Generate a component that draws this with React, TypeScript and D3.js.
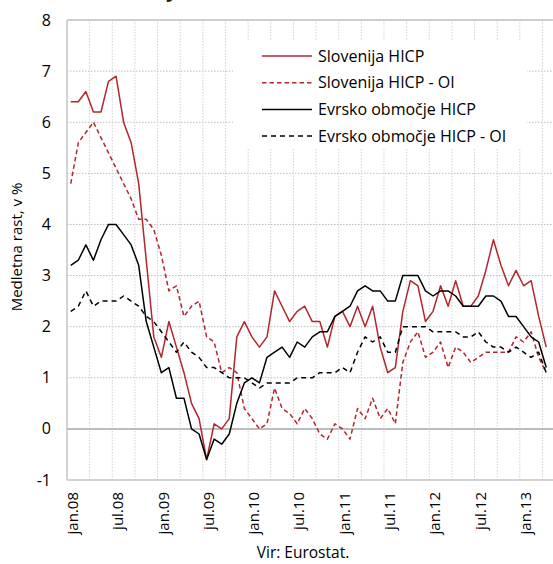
import React from 'react';
import * as d3 from 'd3';

// months jan.08 - apr.13
const years = ['08', '09', '10', '11', '12', '13'];
const monthNames = ['jan', 'feb', 'mar', 'apr', 'maj', 'jun', 'jul', 'avg', 'sep', 'okt', 'nov', 'dec'];
const monthCount = 64;

const sloHicp = [6.4, 6.4, 6.6, 6.2, 6.2, 6.8, 6.9, 6.0, 5.6, 4.8, 3.3, 1.8,
  1.4, 2.1, 1.6, 1.1, 0.5, 0.2, -0.6, 0.1, 0.0, 0.2, 1.8, 2.1,
  1.8, 1.6, 1.8, 2.7, 2.4, 2.1, 2.3, 2.4, 2.1, 2.1, 1.6, 2.2,
  2.3, 2.0, 2.4, 2.0, 2.4, 1.6, 1.1, 1.2, 2.3, 2.9, 2.8, 2.1,
  2.3, 2.8, 2.4, 2.9, 2.4, 2.4, 2.6, 3.1, 3.7, 3.2, 2.8, 3.1,
  2.8, 2.9, 2.2, 1.6];

const sloOi = [4.8, 5.6, 5.8, 6.0, 5.7, 5.4, 5.1, 4.8, 4.5, 4.1, 4.1, 3.9,
  3.4, 2.7, 2.8, 2.2, 2.4, 2.5, 1.8, 1.7, 1.1, 1.2, 1.1, 0.4,
  0.2, 0.0, 0.1, 0.8, 0.4, 0.3, 0.1, 0.4, 0.2, -0.1, -0.2, 0.1,
  0.0, -0.2, 0.4, 0.2, 0.6, 0.2, 0.4, 0.1, 1.3, 1.7, 1.9, 1.4,
  1.5, 1.7, 1.2, 1.6, 1.5, 1.3, 1.4, 1.5, 1.5, 1.5, 1.5, 1.8,
  1.7, 1.9, 1.4, 1.1];

const euHicp = [3.2, 3.3, 3.6, 3.3, 3.7, 4.0, 4.0, 3.8, 3.6, 3.2, 2.1, 1.6,
  1.1, 1.2, 0.6, 0.6, 0.0, -0.1, -0.6, -0.2, -0.3, -0.1, 0.5, 0.9,
  1.0, 0.9, 1.4, 1.5, 1.6, 1.4, 1.7, 1.6, 1.8, 1.9, 1.9, 2.2,
  2.3, 2.4, 2.7, 2.8, 2.7, 2.7, 2.5, 2.5, 3.0, 3.0, 3.0, 2.7,
  2.6, 2.7, 2.7, 2.6, 2.4, 2.4, 2.4, 2.6, 2.6, 2.5, 2.2, 2.2,
  2.0, 1.8, 1.7, 1.2];

const euOi = [2.3, 2.4, 2.7, 2.4, 2.5, 2.5, 2.5, 2.6, 2.5, 2.4, 2.2, 2.1,
  1.9, 1.7, 1.5, 1.7, 1.5, 1.4, 1.2, 1.2, 1.1, 1.0, 1.0, 1.0,
  0.9, 0.8, 0.9, 0.9, 0.9, 0.9, 1.0, 1.0, 1.0, 1.1, 1.1, 1.1,
  1.2, 1.1, 1.5, 1.8, 1.7, 1.8, 1.5, 1.5, 2.0, 2.0, 2.0, 2.0,
  1.9, 1.9, 1.9, 1.9, 1.8, 1.8, 1.9, 1.7, 1.6, 1.6, 1.5, 1.6,
  1.5, 1.4, 1.5, 1.1];

const yTicks = [-1, 0, 1, 2, 3, 4, 5, 6, 7, 8];

const RED = '#b3262c';
const FONT = '"Open Sans", sans-serif';

const series = [
  { name: 'Slovenija HICP', values: sloHicp, color: RED, dash: null },
  { name: 'Slovenija HICP - OI', values: sloOi, color: RED, dash: '4.5,3' },
  { name: 'Evrsko območje HICP', values: euHicp, color: '#000', dash: null },
  { name: 'Evrsko območje HICP - OI', values: euOi, color: '#000', dash: '5,4' },
];

const months = d3.range(monthCount).map(i => monthNames[i % 12] + '.' + years[Math.floor(i / 12)]);

const App = () => {
  const width = 553;
  const height = 564;
  const left = 67;
  const top = 20;
  const bottom = 480;

  const x = d3.scaleBand().domain(months).range([left, 550]).padding(0);
  const bw = x.bandwidth();
  const cx = (i) => x(months[i]) + bw / 2;
  const y = d3.scaleLinear().domain([-1, 8]).range([bottom, top]);

  const line = d3.line<number>()
    .x((d, i) => cx(i))
    .y(d => y(d));

  const vGrid = months.filter((m, i) => i % 3 === 0 && i > 0);
  const labelMonths = months.filter((m, i) => i % 6 === 0);

  return (
    <svg width={width} height={height} style={{ position: 'absolute', left: 0, top: 0, background: '#fff' }}>
      {/* title, cut off at the top edge */}
      <text x={166} y={-3} fontFamily={FONT} fontWeight="bold" fontSize={20} fill="#222">y</text>

      {/* grid */}
      {yTicks.filter(t => t !== 0 && t !== -1).map(t => (
        <line key={'h' + t} x1={left} x2={width} y1={y(t)} y2={y(t)}
          stroke="#bcbcbc" strokeWidth={1} strokeDasharray="1.5,1.5" />
      ))}
      {vGrid.map(m => (
        <line key={'v' + m} x1={x(m)} x2={x(m)} y1={top} y2={bottom}
          stroke="#d0d0d0" strokeWidth={1} strokeDasharray="1.5,1.5" />
      ))}

      {/* legend background */}
      <rect x={233} y={41} width={294} height={107} fill="#fff" />

      {/* axes frame */}
      <line x1={left} x2={width} y1={top} y2={top} stroke="#c4c4c4" strokeWidth={1.5} />
      <line x1={left} x2={left} y1={top} y2={bottom} stroke="#c4c4c4" strokeWidth={1.5} />
      <line x1={left} x2={width} y1={bottom} y2={bottom} stroke="#c4c4c4" strokeWidth={1.5} />
      <line x1={left} x2={width} y1={y(0)} y2={y(0)} stroke="#bdbdbd" strokeWidth={2} />

      {/* series */}
      {series.map(s => (
        <path key={s.name} d={line(s.values)} fill="none" stroke={s.color}
          strokeWidth={1.5} strokeDasharray={s.dash || undefined} strokeLinejoin="round" />
      ))}

      {/* y ticks */}
      {yTicks.map(t => (
        <text key={'yt' + t} x={51} y={y(t)} dy="0.35em" textAnchor="end"
          fontFamily={FONT} fontSize={16} fill="#000">{t}</text>
      ))}
      <text transform={`translate(22,247) rotate(-90)`} textAnchor="middle"
        fontFamily={FONT} fontSize={15} fill="#000">Medletna rast, v %</text>

      {/* x labels */}
      {labelMonths.map(m => (
        <text key={'xl' + m} transform={`translate(${x(m) + bw / 2 + 2},492) rotate(-90)`}
          dy="0.35em" textAnchor="end" fontFamily={FONT} fontSize={15} fill="#000">{m}</text>
      ))}
      <text x={303} y={558} textAnchor="middle" fontFamily={FONT} fontSize={15.5} fill="#000">Vir: Eurostat.</text>

      {/* legend */}
      {series.map((s, i) => (
        <g key={'lg' + s.name} transform={`translate(262,${56 + i * 26.7})`}>
          <line x1={0} x2={50} y1={0} y2={0} stroke={s.color} strokeWidth={1.5}
            strokeDasharray={s.dash || undefined} />
          <text x={56} y={0} dy="0.35em" fontFamily={FONT} fontSize={16} fill="#000">{s.name}</text>
        </g>
      ))}
    </svg>
  );
};

export default App;
